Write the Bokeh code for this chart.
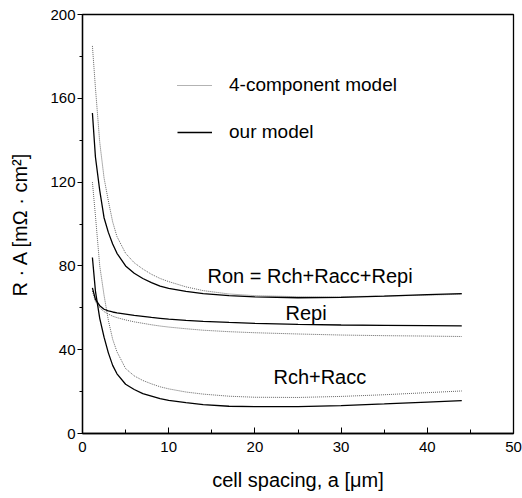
from bokeh.plotting import figure
from bokeh.models import Range1d, Label, Legend, LegendItem, FixedTicker
from bokeh.embed import file_html
from bokeh.resources import INLINE

# cell spacing a [um]
a = [1.15, 1.5, 2, 2.5, 3, 3.5, 4, 5, 6, 7, 8, 9, 10, 12, 14, 17, 20, 25, 30, 35, 40, 44]

# our model (solid)
our_ron = [153, 132, 116, 103, 96, 90.5, 86, 80, 76.5, 74, 72, 70.3, 69.3, 67.8, 66.8, 65.8, 65.2, 64.8, 65, 65.6, 66.3, 66.8]
our_repi = [69.5, 64, 61, 59.3, 58.5, 58, 57.6, 57, 56.4, 55.9, 55.4, 55, 54.6, 54, 53.5, 53, 52.6, 52.1, 51.8, 51.6, 51.5, 51.4]
our_rchacc = [84, 68, 55, 46, 38.5, 32.5, 28.5, 23.5, 21, 19, 17.8, 16.6, 15.8, 14.7, 13.8, 13, 12.8, 12.8, 13.3, 14.1, 15, 15.7]

# 4-component model (dotted)
four_ron = [185, 165, 139, 122, 111, 101, 94, 86, 81.5, 78.5, 76, 74, 72.5, 70, 68.2, 66.6, 65.8, 65.3, 65.3, 65.6, 66, 66.5]
four_repi = [68, 63, 60, 58.2, 57, 56, 55.3, 54.2, 53.3, 52.6, 51.9, 51.3, 50.8, 50, 49.3, 48.6, 48.1, 47.5, 47, 46.7, 46.5, 46.3]
four_rchacc = [120, 104, 80, 66, 54, 45, 39, 31, 27.5, 25.3, 23.7, 22.3, 21.3, 19.8, 18.8, 17.8, 17.3, 17.2, 17.7, 18.5, 19.5, 20.3]

x_ticks = [0, 10, 20, 30, 40, 50]
y_ticks = [0, 40, 80, 120, 160, 200]

FONT = "Liberation Sans"

p = figure(width=522, height=498, output_backend="svg", toolbar_location=None,
           x_range=Range1d(0, 50), y_range=Range1d(0, 200),
           min_border_left=82, min_border_right=9, min_border_top=14, min_border_bottom=65)
p.xgrid.visible = False
p.ygrid.visible = False
p.outline_line_color = "black"
p.outline_line_width = 1.3
p.background_fill_color = "white"
p.border_fill_color = "white"

dot_kw = dict(line_color="#666666", line_width=1.0, line_dash="1 1")
sol_kw = dict(line_color="black", line_width=1.3)

r4 = p.line(a, four_ron, **dot_kw)
p.line(a, four_repi, **dot_kw)
p.line(a, four_rchacc, **dot_kw)
ro = p.line(a, our_ron, **sol_kw)
p.line(a, our_repi, **sol_kw)
p.line(a, our_rchacc, **sol_kw)

# axes
p.xaxis.ticker = FixedTicker(ticks=x_ticks, minor_ticks=[5, 15, 25, 35, 45])
p.yaxis.ticker = FixedTicker(ticks=y_ticks, minor_ticks=[20, 60, 100, 140, 180])
for ax in (p.xaxis[0], p.yaxis[0]):
    ax.axis_line_color = "black"
    ax.axis_line_width = 1.3
    ax.major_tick_line_color = "black"
    ax.minor_tick_line_color = "black"
    ax.major_label_text_font = FONT
    ax.major_label_text_font_size = "15px"
    ax.major_label_text_color = "black"
    ax.axis_label_text_font = FONT
    ax.axis_label_text_font_size = "20px"
    ax.axis_label_text_font_style = "normal"
    ax.axis_label_text_color = "black"

p.xaxis.major_tick_in = 6
p.xaxis.major_tick_out = 0
p.xaxis.minor_tick_in = 4
p.xaxis.minor_tick_out = 0
p.xaxis.major_label_standoff = 8
p.xaxis.axis_label = "cell spacing, a [\u03bcm]"
p.xaxis.axis_label_standoff = 14

p.yaxis.major_tick_in = 0
p.yaxis.major_tick_out = 5
p.yaxis.minor_tick_in = 0
p.yaxis.minor_tick_out = 3
p.yaxis.major_label_standoff = 2
p.yaxis.axis_label = "R \u00b7 A [m\u03a9 \u00b7 cm\u00b2]"
p.yaxis.axis_label_standoff = 16

# legend
legend = Legend(items=[LegendItem(label="4-component model", renderers=[r4]),
                       LegendItem(label="our model", renderers=[ro])],
                location=(95, 290), orientation="vertical")
legend.glyph_width = 35
legend.glyph_height = 20
legend.label_height = 20
legend.spacing = 25
legend.padding = 0
legend.margin = 0
legend.label_standoff = 17
legend.border_line_color = None
legend.background_fill_alpha = 0
legend.label_text_font = FONT
legend.label_text_font_size = "19px"
legend.label_text_color = "black"
p.add_layout(legend, "center")

# curve labels
for txt, xx, yy in [("Ron = Rch+Racc+Repi", 14.5, 75), ("Repi", 23.55, 57.5), ("Rch+Racc", 22.15, 26.8)]:
    p.add_layout(Label(x=xx, y=yy, text=txt, text_font=FONT, text_font_size="20px",
                       text_baseline="middle", text_align="left", text_color="black"))

open("out.html", "w").write(file_html(p, INLINE))
